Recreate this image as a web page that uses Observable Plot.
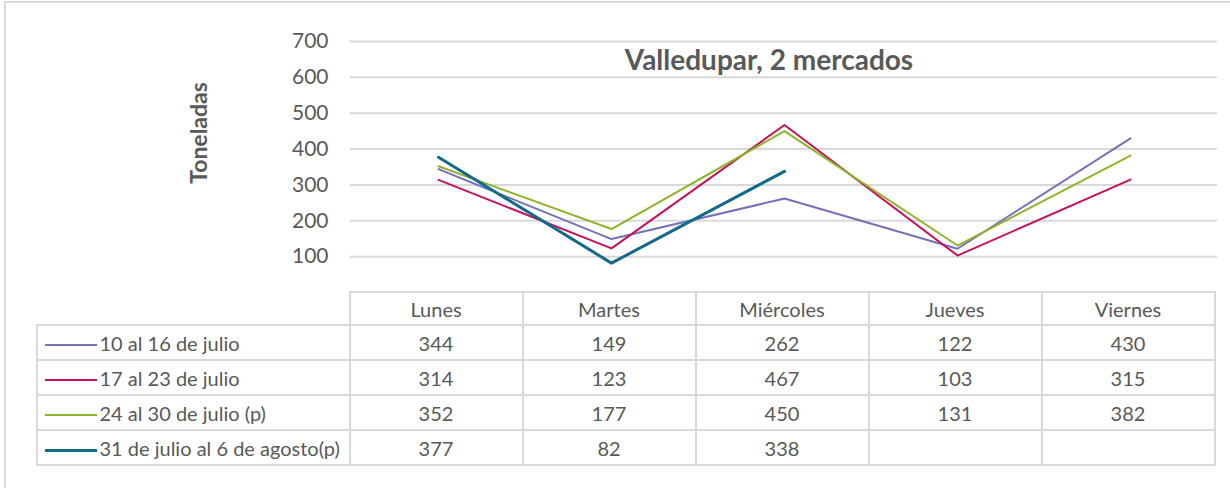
<!DOCTYPE html>
<html>
<head>
<meta charset="utf-8">
<script src="https://cdn.jsdelivr.net/npm/d3@7"></script>
<script src="https://cdn.jsdelivr.net/npm/@observablehq/plot@0.6"></script>
<style>
  html, body { margin: 0; padding: 0; background: #fff; }
  #wrap { position: relative; width: 1230px; height: 488px; overflow: hidden; font-family: Lato, "Open Sans", sans-serif; color: #595959; }
  #frame { position: absolute; left: 4px; top: 1px; width: 1300px; height: 600px; border: 2px solid #d9d9d9; box-sizing: border-box; }
  #chart { position: absolute; left: 0; top: 0; }
  #title { position: absolute; top: 42px; font-weight: bold; font-size: 28px; line-height: 34px; white-space: nowrap; transform: translateX(-50%); color: #595959; }
  #ylab { position: absolute; font-weight: bold; font-size: 23px; white-space: nowrap; transform: translate(-50%, -50%) rotate(-90deg); color: #595959; }
  #tbl { position: absolute; border-collapse: collapse; table-layout: fixed; font-size: 20px; color: #595959; }
  #tbl td { border: 2px solid #d9d9d9; text-align: center; vertical-align: middle; padding: 0; white-space: nowrap; overflow: visible; }
  #tbl td.blank { border-top-style: hidden; border-left-style: hidden; }
  #tbl td.leg { text-align: left; }
  .sw { display: inline-block; width: 52px; margin-left: 7px; margin-right: 3px; vertical-align: middle; }
</style>
</head>
<body>
<div id="wrap">
  <div id="frame"></div>
  <div id="chart"></div>
  <div id="title"></div>
  <div id="ylab"></div>
  <table id="tbl"></table>
</div>
<script>
// ---- data ----
const days = ["Lunes", "Martes", "Miércoles", "Jueves", "Viernes"];
const seriesNames = ["10 al 16 de julio", "17 al 23 de julio", "24 al 30 de julio (p)", "31 de julio al 6 de agosto(p)"];
const julio10_16 = [344, 149, 262, 122, 430];
const julio17_23 = [314, 123, 467, 103, 315];
const julio24_30 = [352, 177, 450, 131, 382];
const julio31_ago6 = [377, 82, 338, null, null];
const seriesColors = ["#7571B8", "#C8105A", "#8DB52A", "#11698C"];
const seriesWidths = [2, 2, 2, 3];
const yTicks = [100, 200, 300, 400, 500, 600, 700];
const titleText = "Valledupar, 2 mercados";
const yLabelText = "Toneladas";

const allSeries = [julio10_16, julio17_23, julio24_30, julio31_ago6];
const rows = [];
allSeries.forEach((vals, i) => vals.forEach((v, j) => {
  if (v != null) rows.push({series: seriesNames[i], day: days[j], value: v});
}));

const lineMarks = seriesNames.map((name, i) =>
  Plot.line(rows.filter(r => r.series === name), {
    x: "day", y: "value", stroke: seriesColors[i], strokeWidth: seriesWidths[i],
    strokeLinejoin: "round", strokeLinecap: "round"
  })
);

const chart = Plot.plot({
  width: 1230,
  height: 293,
  marginLeft: 350,
  marginRight: 13,
  marginTop: 41,
  marginBottom: 1,
  x: {type: "point", domain: days, padding: 0.5, axis: null},
  y: {domain: [0, 700], axis: null},
  style: {fontFamily: "Lato, 'Open Sans', sans-serif", color: "#595959", background: "transparent", overflow: "visible"},
  marks: [
    Plot.ruleY(yTicks, {stroke: "#d9d9d9", strokeWidth: 2, strokeOpacity: 1}),
    Plot.axisY(yTicks, {tickSize: 0, tickPadding: 22, fontSize: 21, fill: "#595959", label: null, tickFormat: d => String(d)}),
    ...lineMarks
  ]
});
document.getElementById("chart").appendChild(chart);

// ---- title & y label positioned from the scales ----
const xs = chart.scale("x");
const ys = chart.scale("y");
const step = xs.apply(days[1]) - xs.apply(days[0]);
const plotLeft = xs.apply(days[0]) - step / 2;
const plotRight = xs.apply(days[days.length - 1]) + step / 2;

const titleEl = document.getElementById("title");
titleEl.textContent = titleText;
titleEl.style.left = ((plotLeft + plotRight) / 2 - 15) + "px";

const ylab = document.getElementById("ylab");
ylab.textContent = yLabelText;
ylab.style.left = "198px";
ylab.style.top = "133px";

// ---- data table ----
const tbl = document.getElementById("tbl");
const legendWidth = 313;
tbl.style.left = (plotLeft - legendWidth - 3) + "px";
tbl.style.top = (ys.apply(0) - 1) + "px";
tbl.style.width = (legendWidth + step * days.length) + "px";

const colgroup = document.createElement("colgroup");
[legendWidth, ...days.map(() => step)].forEach(w => {
  const c = document.createElement("col");
  c.style.width = w + "px";
  colgroup.appendChild(c);
});
tbl.appendChild(colgroup);

const head = document.createElement("tr");
head.style.height = "33px";
const blank = document.createElement("td");
blank.className = "blank";
head.appendChild(blank);
days.forEach(d => { const td = document.createElement("td"); td.textContent = d; head.appendChild(td); });
tbl.appendChild(head);

allSeries.forEach((vals, i) => {
  const tr = document.createElement("tr");
  tr.style.height = "35px";
  const lg = document.createElement("td");
  lg.className = "leg";
  const sw = document.createElement("span");
  sw.className = "sw";
  sw.style.height = seriesWidths[i] + "px";
  sw.style.background = seriesColors[i];
  lg.appendChild(sw);
  lg.appendChild(document.createTextNode(seriesNames[i]));
  tr.appendChild(lg);
  vals.forEach(v => { const td = document.createElement("td"); td.textContent = v == null ? "" : String(v); tr.appendChild(td); });
  tbl.appendChild(tr);
});
</script>
</body>
</html>
